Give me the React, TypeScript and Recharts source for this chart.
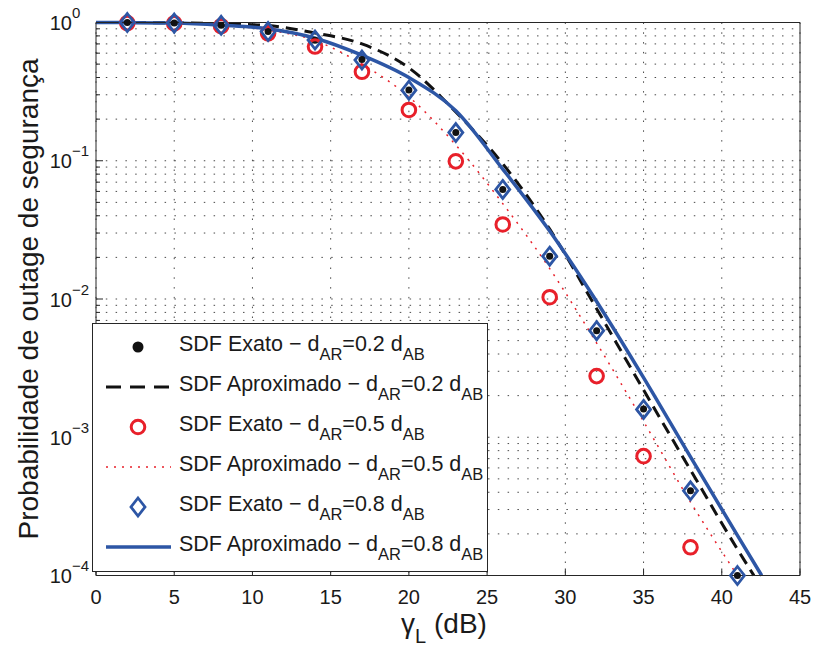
import React from 'react';
import { ComposedChart, Line, Scatter, XAxis, YAxis, CartesianGrid, Label } from 'recharts';

const FONT = '"Liberation Sans", Arial, Helvetica, sans-serif';
const INK = '#262626';
const BLACK = '#111111';
const RED = '#e8202a';
const BLUE = '#2d56a5';

// gamma_L (dB) where the exact outage probability was evaluated
const gammaExact = [2, 5, 8, 11, 14, 17, 20, 23, 26, 29, 32, 35, 38, 41];
const exactD02 = [1.0, 0.99, 0.955, 0.86, 0.745, 0.54, 0.325, 0.16, 0.062, 0.0204, 0.0059, 0.0016, 0.00041, 0.0001];
const gammaExactD05 = [2, 5, 8, 11, 14, 17, 20, 23, 26, 29, 32, 35, 38];
const exactD05 = [0.99, 0.985, 0.94, 0.835, 0.67, 0.44, 0.233, 0.099, 0.0346, 0.0103, 0.00277, 0.00073, 0.00016];
const exactD08 = [1.0, 0.99, 0.955, 0.86, 0.746, 0.535, 0.324, 0.16, 0.062, 0.0204, 0.0059, 0.00159, 0.00041, 0.0001];

// approximate (closed form) curves
const gammaApproxD02 = [0, 2, 5, 8, 11, 14, 17, 20, 23, 26, 29, 32, 35, 38, 41, 42.05];
const approxD02 = [1.0, 0.999, 0.995, 0.98, 0.95, 0.84, 0.7, 0.47, 0.225, 0.095, 0.032, 0.0085, 0.0022, 0.00058, 0.000155, 0.0001];
const gammaApproxD05 = [0, 2, 5, 8, 11, 14, 17, 20, 23, 26, 29, 32, 35, 38, 41];
const approxD05 = [1.0, 0.998, 0.99, 0.96, 0.88, 0.74, 0.5, 0.29, 0.13, 0.049, 0.0166, 0.0048, 0.0013, 0.00034, 0.0001];
const gammaApproxD08 = [0, 2, 5, 8, 11, 14, 17, 20, 23, 26, 29, 32, 35, 38, 41, 42.55];
const approxD08 = [1.0, 0.998, 0.99, 0.955, 0.9, 0.77, 0.58, 0.4, 0.23, 0.087, 0.031, 0.0096, 0.0027, 0.00072, 0.000195, 0.0001];

const xTicks = [0, 5, 10, 15, 20, 25, 30, 35, 40, 45];
const yDecades = [1e-4, 1e-3, 1e-2, 1e-1, 1];
const yTicks = yDecades.flatMap((d) => (d === 1 ? [1] : [1, 2, 3, 4, 5, 6, 7, 8, 9].map((m) => m * d)));

const toPoints = (xs: number[], ys: number[]) => xs.map((x, i) => ({ x, y: ys[i] }));

const isDecade = (v: number) => Math.abs(Math.log10(v) - Math.round(Math.log10(v))) < 1e-6;

const LeftTick = (props: any) => {
  const { x, y, payload } = props;
  const v = payload.value as number;
  const major = isDecade(v);
  const exp = Math.round(Math.log10(v));
  return (
    <g>
      <line x1={x} y1={y} x2={x + (major ? 7 : 4)} y2={y} stroke={INK} strokeWidth={1} />
      {major && (
        <text x={x - 24} y={y + 7.5} textAnchor="end" fontFamily={FONT} fontSize={20} fill="#1a1a1a">
          10
        </text>
      )}
      {major && (
        <text x={x - 24} y={y - 4.5} fontFamily={FONT} fontSize={15} fill="#1a1a1a">
          {exp === 0 ? '0' : '\u2212' + Math.abs(exp)}
        </text>
      )}
    </g>
  );
};

const RightTick = (props: any) => {
  const { x, y, payload } = props;
  const major = isDecade(payload.value);
  return <line x1={x} y1={y} x2={x - (major ? 7 : 4)} y2={y} stroke={INK} strokeWidth={1} />;
};

const BottomTick = (props: any) => {
  const { x, y, payload } = props;
  return (
    <g>
      <line x1={x} y1={y} x2={x} y2={y - 7} stroke={INK} strokeWidth={1} />
      <text x={x} y={y + 28.5} textAnchor="middle" fontFamily={FONT} fontSize={20} fill="#1a1a1a">
        {payload.value}
      </text>
    </g>
  );
};

const TopTick = (props: any) => {
  const { x, y } = props;
  return <line x1={x} y1={y} x2={x} y2={y + 7} stroke={INK} strokeWidth={1} />;
};

const DotShape = (props: any) => <circle cx={props.cx} cy={props.cy} r={3.5} fill={BLACK} />;

const CircleShape = (props: any) => (
  <circle cx={props.cx} cy={props.cy} r={6.8} fill="none" stroke={RED} strokeWidth={3} />
);

const DiamondShape = (props: any) => {
  const { cx, cy } = props;
  return (
    <path
      d={`M${cx},${cy - 9} L${cx + 7},${cy} L${cx},${cy + 9} L${cx - 7},${cy} Z`}
      fill="none"
      stroke={BLUE}
      strokeWidth={2.8}
    />
  );
};

const XLabel = (props: any) => {
  const { viewBox } = props;
  const cx = viewBox.x + viewBox.width / 2;
  return (
    <text x={cx - 4} y={viewBox.y + 57.5} textAnchor="middle" fontFamily={FONT} fontSize={28} fill="#1a1a1a">
      <tspan>γ</tspan>
      <tspan fontSize={20} dy={10}>L</tspan>
      <tspan dy={-10}> (dB)</tspan>
    </text>
  );
};

const YLabel = (props: any) => {
  const { viewBox } = props;
  const x = viewBox.x + 2;
  const y = viewBox.y + viewBox.height / 2;
  return (
    <text
      x={x}
      y={y}
      transform={`rotate(-90, ${x}, ${y})`}
      textAnchor="middle"
      fontFamily={FONT}
      fontSize={28}
      fill="#1a1a1a"
    >
      Probabilidade de outage de segurança
    </text>
  );
};

const legendRows = [
  { kind: 'dot', d: '0.2', text: 'SDF Exato' },
  { kind: 'dash', d: '0.2', text: 'SDF Aproximado' },
  { kind: 'circle', d: '0.5', text: 'SDF Exato' },
  { kind: 'dotted', d: '0.5', text: 'SDF Aproximado' },
  { kind: 'diamond', d: '0.8', text: 'SDF Exato' },
  { kind: 'solid', d: '0.8', text: 'SDF Aproximado' },
];

const LegendBox = () => (
  <svg
    width={398}
    height={251}
    style={{ position: 'absolute', left: 91, top: 322, overflow: 'visible' }}
  >
    <rect x={1.5} y={1.5} width={395} height={248} fill="#fff" stroke={INK} strokeWidth={1} />
    {legendRows.map((row, i) => {
      const cy = 25 + i * 40;
      let sample: React.ReactNode = null;
      if (row.kind === 'dot') sample = <circle cx={47} cy={cy} r={5.5} fill={BLACK} />;
      if (row.kind === 'circle') sample = <circle cx={47} cy={cy} r={6.8} fill="none" stroke={RED} strokeWidth={3} />;
      if (row.kind === 'diamond')
        sample = (
          <path
            d={`M47,${cy - 9} L54,${cy} L47,${cy + 9} L40,${cy} Z`}
            fill="none"
            stroke={BLUE}
            strokeWidth={2.8}
          />
        );
      if (row.kind === 'dash')
        sample = <line x1={15} y1={cy} x2={80} y2={cy} stroke={BLACK} strokeWidth={3} strokeDasharray="15 9" />;
      if (row.kind === 'dotted')
        sample = <line x1={15} y1={cy} x2={80} y2={cy} stroke={RED} strokeWidth={1.5} strokeDasharray="2 6" />;
      if (row.kind === 'solid')
        sample = <line x1={15} y1={cy} x2={80} y2={cy} stroke={BLUE} strokeWidth={3.5} />;
      return (
        <g key={i}>
          {sample}
          <text x={88} y={cy + 3.5} fontFamily={FONT} fontSize={21.5} fill="#1a1a1a">
            <tspan>{row.text} − d</tspan>
            <tspan fontSize={16.5} dy={9}>AR</tspan>
            <tspan dy={-9}>={row.d} d</tspan>
            <tspan fontSize={16.5} dy={9}>AB</tspan>
          </text>
        </g>
      );
    })}
  </svg>
);

export default function App() {
  return (
    <div style={{ position: 'absolute', left: 0, top: 0, width: 813, height: 652, background: '#fff' }}>
      <ComposedChart
        width={813}
        height={652}
        margin={{ top: 12.5, right: 3, bottom: 36.5, left: 36 }}
      >
        <CartesianGrid stroke="#4a4a4a" strokeDasharray="1.5 8.3" strokeWidth={1} />
        <XAxis
          dataKey="x"
          type="number"
          domain={[0, 45]}
          ticks={xTicks}
          interval={0}
          height={40}
          tickSize={0}
          tickMargin={0}
          tickLine={false}
          axisLine={{ stroke: INK, strokeWidth: 1 }}
          tick={<BottomTick />}
        >
          <Label content={<XLabel />} />
        </XAxis>
        <XAxis
          xAxisId="top"
          orientation="top"
          type="number"
          domain={[0, 45]}
          ticks={xTicks}
          interval={0}
          height={10}
          tickSize={0}
          tickMargin={0}
          tickLine={false}
          axisLine={{ stroke: INK, strokeWidth: 1 }}
          tick={<TopTick />}
        />
        <YAxis
          type="number"
          scale="log"
          domain={[1e-4, 1]}
          ticks={yTicks}
          interval={0}
          width={60}
          tickSize={0}
          tickMargin={0}
          tickLine={false}
          axisLine={{ stroke: INK, strokeWidth: 1 }}
          tick={<LeftTick />}
        >
          <Label content={<YLabel />} />
        </YAxis>
        <YAxis
          yAxisId="right"
          orientation="right"
          type="number"
          scale="log"
          domain={[1e-4, 1]}
          ticks={yTicks}
          interval={0}
          width={10}
          tickSize={0}
          tickMargin={0}
          tickLine={false}
          axisLine={{ stroke: INK, strokeWidth: 1 }}
          tick={<RightTick />}
        />

        <Scatter
          data={toPoints(gammaExact, exactD02)}
          dataKey="y"
          shape={<DotShape />}
          isAnimationActive={false}
        />
        <Line
          data={toPoints(gammaApproxD02, approxD02)}
          dataKey="y"
          stroke={BLACK}
          strokeWidth={3}
          strokeDasharray="12 7"
          dot={false}
          activeDot={false}
          type="monotone"
          isAnimationActive={false}
        />
        <Scatter
          data={toPoints(gammaExactD05, exactD05)}
          dataKey="y"
          shape={<CircleShape />}
          isAnimationActive={false}
        />
        <Line
          data={toPoints(gammaApproxD05, approxD05)}
          dataKey="y"
          stroke={RED}
          strokeWidth={1.5}
          strokeDasharray="2 6"
          dot={false}
          activeDot={false}
          type="monotone"
          isAnimationActive={false}
        />
        <Scatter
          data={toPoints(gammaExact, exactD08)}
          dataKey="y"
          shape={<DiamondShape />}
          isAnimationActive={false}
        />
        <Line
          data={toPoints(gammaApproxD08, approxD08)}
          dataKey="y"
          stroke={BLUE}
          strokeWidth={3.5}
          dot={false}
          activeDot={false}
          type="monotone"
          isAnimationActive={false}
        />
      </ComposedChart>
      <LegendBox />
    </div>
  );
}
